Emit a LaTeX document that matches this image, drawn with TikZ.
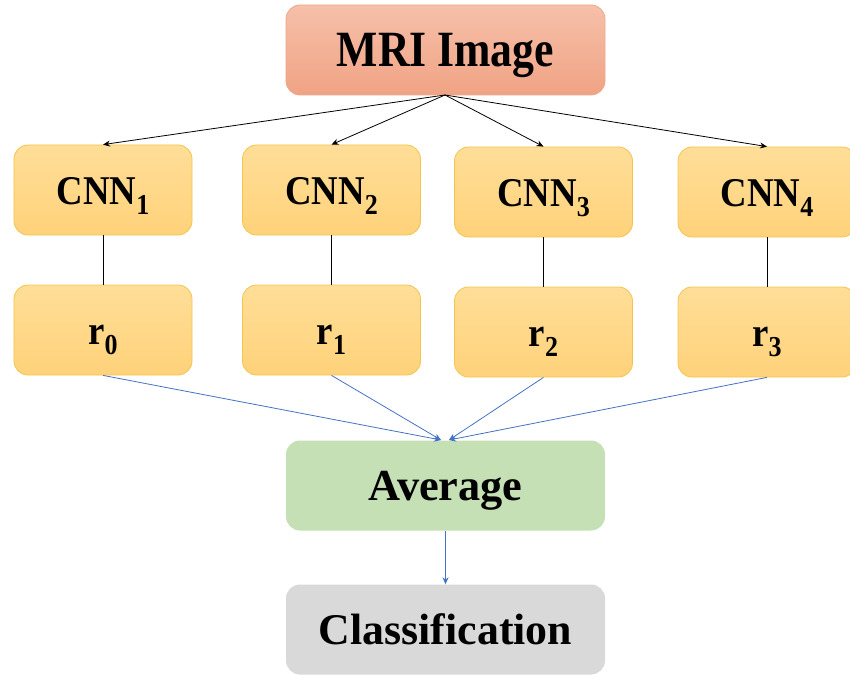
\documentclass[tikz,border=0pt]{standalone}
\usepackage{fontspec}
\setmainfont{Liberation Serif}
\newfontfamily\condserif[FakeStretch=0.86]{Liberation Serif}
\newfontfamily\midserif[FakeStretch=0.9]{Liberation Serif}
\usetikzlibrary{arrows.meta}
\newcommand{\lowsub}[1]{\raisebox{-10bp}{\fontsize{29}{29}\selectfont #1}}
\definecolor{mriTop}{HTML}{F6C0AA}
\definecolor{mriBot}{HTML}{F0A384}
\definecolor{mriLine}{HTML}{EDA88C}
\definecolor{cnnTop}{HTML}{FFDE98}
\definecolor{cnnBot}{HTML}{FFD27A}
\definecolor{cnnLine}{HTML}{F4C54E}
\definecolor{avgFill}{HTML}{C5E0B4}
\definecolor{clsFill}{HTML}{D9D9D9}
\definecolor{blueArrow}{HTML}{4472C4}
\tikzset{
  boxbase/.style={rounded corners=14bp, inner sep=0pt, text=black},
  mribox/.style={boxbase, top color=mriTop, bottom color=mriBot, draw=mriLine, line width=0.8bp,
    minimum width=319bp, minimum height=90bp, text height=34bp, text depth=0bp,
    font=\condserif\fontsize{51}{51}\selectfont\bfseries},
  cnnbox/.style={boxbase, top color=cnnTop, bottom color=cnnBot, draw=cnnLine, line width=0.8bp,
    minimum width=178bp, minimum height=90bp, text height=30bp, text depth=2bp,
    font=\midserif\fontsize{41}{41}\selectfont\bfseries},
  avgbox/.style={boxbase, fill=avgFill, minimum width=319bp, minimum height=90bp,
    text height=30bp, text depth=1bp, font=\fontsize{44.5}{44.5}\selectfont\bfseries},
  clsbox/.style={boxbase, fill=clsFill, minimum width=319bp, minimum height=90bp,
    text height=30bp, text depth=0bp, font=\fontsize{44}{44}\selectfont\bfseries},
  blackarrow/.style={-{Stealth[length=7bp,width=6bp]}, black, line width=0.8bp},
  bluearrow/.style={-{Stealth[length=7bp,width=6bp]}, blueArrow, line width=0.8bp},
  plainline/.style={black, line width=0.8bp}
}
\begin{document}
\begin{tikzpicture}[x=1bp,y=-1bp]
\useasboundingbox (0,0) rectangle (850,675);
\node[mribox] (mri) at (445.5,50) {MRI Image};
\node[cnnbox] (c1) at (103,190) {CNN\lowsub{1}};
\node[cnnbox] (c2) at (331.5,190) {CNN\lowsub{2}};
\node[cnnbox] (c3) at (543.5,192) {CNN\lowsub{3}};
\node[cnnbox] (c4) at (767,192) {CNN\lowsub{4}};
\node[cnnbox] (r0) at (103,330) {r\lowsub{0}};
\node[cnnbox] (r1) at (331.5,330) {r\lowsub{1}};
\node[cnnbox] (r2) at (543.5,332) {r\lowsub{2}};
\node[cnnbox] (r3) at (767,332) {r\lowsub{3}};
\node[avgbox] (avg) at (445.5,485.5) {Average};
\node[clsbox] (cls) at (445.5,629.5) {Classification};
\coordinate (mriout) at (445,95);
\foreach \n in {c1,c2,c3,c4}{
  \draw[blackarrow] (mriout) -- (\n.north);
}
\foreach \a/\b in {c1/r0,c2/r1,c3/r2,c4/r3}{
  \draw[plainline] (\a.south) -- (\b.north);
}
\coordinate (inL) at (441,440);
\coordinate (inR) at (449,440);
\draw[bluearrow] (r0.south) -- (inL);
\draw[bluearrow] (r1.south) -- (inL);
\draw[bluearrow] (r2.south) -- (inR);
\draw[bluearrow] (r3.south) -- (inR);
\draw[bluearrow] (avg.south) -- (cls.north);
\end{tikzpicture}
\end{document}
